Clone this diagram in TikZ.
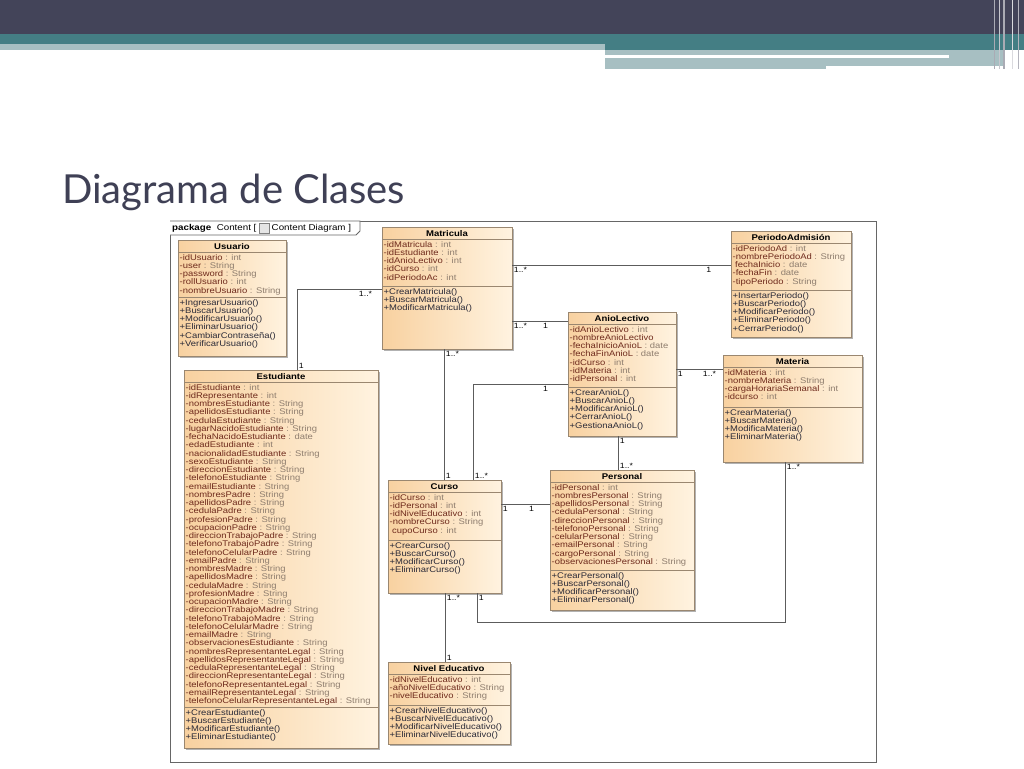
\documentclass[tikz,border=0pt]{standalone}
\usepackage{fontspec}
\usetikzlibrary{calc,positioning,shadows}

\newfontfamily\umlfont[FakeStretch=1.15]{Liberation Sans}
\newfontfamily\slidefont{Lato}

\definecolor{barDark}{HTML}{434459}
\definecolor{barTeal}{HTML}{447E84}
\definecolor{barLight}{HTML}{A7BFC2}
\definecolor{titleInk}{HTML}{3F4055}
\definecolor{boxLeft}{HTML}{F8D1A0}
\definecolor{boxRight}{HTML}{FFF3E0}
\definecolor{boxLine}{HTML}{9A8770}
\definecolor{attrName}{HTML}{6E2A1C}
\definecolor{attrType}{HTML}{8E7D6E}
\definecolor{methInk}{HTML}{2A2A38}
\definecolor{linkInk}{HTML}{5C5C5C}

% attribute with type, attribute without type, attribute without dash
\newcommand{\ua}[2]{\textcolor{attrName}{-#1} \textcolor{attrType}{: #2}}
\newcommand{\uan}[1]{\textcolor{attrName}{-#1}}
\newcommand{\uas}[2]{\textcolor{attrName}{\hspace{2.5pt}#1} \textcolor{attrType}{: #2}}

\tikzset{
  classbox/.style={draw=boxLine, line width=0.6pt, left color=boxLeft, right color=boxRight,
    inner sep=0pt, outer sep=0pt, anchor=north west,
    drop shadow={shadow xshift=1.8pt, shadow yshift=-1.8pt, fill=black, opacity=0.3}},
  classtitle/.style={font=\umlfont\bfseries\fontsize{8.3}{9}\selectfont, inner sep=0pt, text=black},
  classtext/.style={font=\umlfont\fontsize{8.2}{8.25}\selectfont, align=left, inner sep=0pt, anchor=north west},
  assoc/.style={draw=linkInk, line width=0.8pt},
  mult/.style={font=\umlfont\fontsize{7.6}{8}\selectfont, inner sep=1.5pt, text=black},
  pkgtext/.style={font=\umlfont\fontsize{8.5}{9}\selectfont, inner sep=0pt, anchor=west}
}

% name, x, y, width, height, separator, title, attributes, methods
\newcommand{\umlclass}[9]{%
  \node[classbox, minimum width=#4pt, minimum height=#5pt] (#1) at (#2,#3) {};
  \draw[boxLine, line width=0.5pt] ($(#1.north west)+(0,12.5)$) -- ($(#1.north east)+(0,12.5)$);
  \node[classtitle] (#1Title) at ($(#1.north)+(0,6.5)$) {#7};
  \node[classtext] (#1Attr) at ($(#1.north west)+(1.5,14)$) {#8};
  \draw[boxLine, line width=0.5pt] ($(#1.north west)+(0,#6)$) -- ($(#1.north east)+(0,#6)$);
  \node[classtext, text=methInk] (#1Meth) at ($(#1.north west)+(1.5,#6+2)$) {#9};
}

\begin{document}
\begin{tikzpicture}[x=1pt,y=1pt,yscale=-1,xscale=1]
\useasboundingbox (0,0) rectangle (1024,768);
\fill[white] (0,0) rectangle (1024,768);

%Shape: top bars
\fill[barDark] (0,0) rectangle (1024,34);
\fill[barTeal] (0,34) rectangle (1024,44);
\fill[barTeal] (605,44) rectangle (1024,50);
\fill[barLight] (0,44) rectangle (605,50);
\fill[barLight] (605,50) rectangle (1005,66);
\fill[barLight] (605,66) rectangle (826,69);
\fill[white] (605,55) rectangle (949,58);
\draw[white!55!barDark, line width=1pt] (994,0) -- (994,69);
\draw[white!70!barDark, line width=0.8pt] (999,0) -- (999,69);
\draw[white!55!barDark, line width=1.2pt] (1004,0) -- (1004,69);
\draw[white!80!barDark, line width=0.8pt] (1012,0) -- (1012,69);
\draw[white!60!barDark, line width=1pt] (1018,0) -- (1018,69);

% Text Node
\node[anchor=base west, inner sep=0pt, font=\slidefont\fontsize{40}{40}\selectfont, text=titleInk] (slideTitle) at (62,203) {Diagrama de Clases};

%Shape: package frame
\draw[draw=gray!80!black, line width=0.8pt] (170,221) rectangle (876,762);
\draw[draw=gray!80!black, line width=0.8pt, fill=white] (170,221) -- (360,221) -- (360,231) -- (356,235) -- (170,235);
\node[pkgtext] (pkgA) at (172,228.5) {\textbf{package}\ \ Content [};
\node[draw=gray, fill=gray!20, minimum size=10pt, inner sep=0pt, right=2.5pt of pkgA] (pkgIcon) {};
\node[pkgtext, right=2pt of pkgIcon] (pkgB) {Content Diagram ]};

%Shape: classes
\umlclass{usuario}{178}{240}{108}{116}{57}{Usuario}
  {\ua{idUsuario}{int}\\ \ua{user}{String}\\ \ua{password}{String}\\ \ua{rollUsuario}{int}\\ \ua{nombreUsuario}{String}}
  {+IngresarUsuario()\\ +BuscarUsuario()\\ +ModificarUsuario()\\ +EliminarUsuario()\\ +CambiarContraseña()\\ +VerificarUsuario()}

\umlclass{matricula}{382}{227}{130}{122}{59}{Matricula}
  {\ua{idMatricula}{int}\\ \ua{idEstudiante}{int}\\ \ua{idAnioLectivo}{int}\\ \ua{idCurso}{int}\\ \ua{idPeriodoAc}{int}}
  {+CrearMatricula()\\ +BuscarMatricula()\\ +ModificarMatricula()}

\umlclass{periodo}{731}{231}{120}{106}{59}{PeriodoAdmisión}
  {\ua{idPeriodoAd}{int}\\ \ua{nombrePeriodoAd}{String}\\ \uas{fechaInicio}{date}\\ \ua{fechaFin}{date}\\ \ua{tipoPeriodo}{String}}
  {+InsertarPeriodo()\\ +BuscarPeriodo()\\ +ModificarPeriodo()\\ +EliminarPeriodo()\\ +CerrarPeriodo()}

\umlclass{anioLectivo}{568}{312}{108}{124}{75}{AnioLectivo}
  {\ua{idAnioLectivo}{int}\\ \uan{nombreAnioLectivo}\\ \ua{fechaInicioAnioL}{date}\\ \ua{fechaFinAnioL}{date}\\ \ua{idCurso}{int}\\ \ua{idMateria}{int}\\ \ua{idPersonal}{int}}
  {+CrearAnioL()\\ +BuscarAnioL()\\ +ModificarAnioL()\\ +CerrarAnioL()\\ +GestionaAnioL()}

\umlclass{materia}{723}{355}{139}{107}{52}{Materia}
  {\ua{idMateria}{int}\\ \ua{nombreMateria}{String}\\ \ua{cargaHorariaSemanal}{int}\\ \ua{idcurso}{int}}
  {+CrearMateria()\\ +BuscarMateria()\\ +ModificaMateria()\\ +EliminarMateria()}

\umlclass{estudiante}{184}{370}{194}{378}{337}{Estudiante}
  {\ua{idEstudiante}{int}\\ \ua{idRepresentante}{int}\\ \ua{nombresEstudiante}{String}\\ \ua{apellidosEstudiante}{String}\\
   \ua{cedulaEstudiante}{String}\\ \ua{lugarNacidoEstudiante}{String}\\ \ua{fechaNacidoEstudiante}{date}\\ \ua{edadEstudiante}{int}\\
   \ua{nacionalidadEstudiante}{String}\\ \ua{sexoEstudiante}{String}\\ \ua{direccionEstudiante}{String}\\ \ua{telefonoEstudiante}{String}\\
   \ua{emailEstudiante}{String}\\ \ua{nombresPadre}{String}\\ \ua{apellidosPadre}{String}\\ \ua{cedulaPadre}{String}\\
   \ua{profesionPadre}{String}\\ \ua{ocupacionPadre}{String}\\ \ua{direccionTrabajoPadre}{String}\\ \ua{telefonoTrabajoPadre}{String}\\
   \ua{telefonoCelularPadre}{String}\\ \ua{emailPadre}{String}\\ \ua{nombresMadre}{String}\\ \ua{apellidosMadre}{String}\\
   \ua{cedulaMadre}{String}\\ \ua{profesionMadre}{String}\\ \ua{ocupacionMadre}{String}\\ \ua{direccionTrabajoMadre}{String}\\
   \ua{telefonoTrabajoMadre}{String}\\ \ua{telefonoCelularMadre}{String}\\ \ua{emailMadre}{String}\\ \ua{observacionesEstudiante}{String}\\
   \ua{nombresRepresentanteLegal}{String}\\ \ua{apellidosRepresentanteLegal}{String}\\ \ua{cedulaRepresentanteLegal}{String}\\
   \ua{direccionRepresentanteLegal}{String}\\ \ua{telefonoRepresentanteLegal}{String}\\ \ua{emailRepresentanteLegal}{String}\\
   \ua{telefonoCelularRepresentanteLegal}{String}}
  {+CrearEstudiante()\\ +BuscarEstudiante()\\ +ModificarEstudiante()\\ +EliminarEstudiante()}

\umlclass{curso}{388}{480}{113}{113}{60}{Curso}
  {\ua{idCurso}{int}\\ \ua{idPersonal}{int}\\ \ua{idNivelEducativo}{int}\\ \ua{nombreCurso}{String}\\ \uas{cupoCurso}{int}}
  {+CrearCurso()\\ +BuscarCurso()\\ +ModificarCurso()\\ +EliminarCurso()}

\umlclass{personal}{550}{470}{144}{140}{100}{Personal}
  {\ua{idPersonal}{int}\\ \ua{nombresPersonal}{String}\\ \ua{apellidosPersonal}{String}\\ \ua{cedulaPersonal}{String}\\
   \ua{direccionPersonal}{String}\\ \ua{telefonoPersonal}{String}\\ \ua{celularPersonal}{String}\\ \ua{emailPersonal}{String}\\
   \ua{cargoPersonal}{String}\\ \ua{observacionesPersonal}{String}}
  {+CrearPersonal()\\ +BuscarPersonal()\\ +ModificarPersonal()\\ +EliminarPersonal()}

\umlclass{nivelEducativo}{388}{662}{122}{82}{43}{Nivel Educativo}
  {\ua{idNivelEducativo}{int}\\ \ua{añoNivelEducativo}{String}\\ \ua{nivelEducativo}{String}}
  {+CrearNivelEducativo()\\ +BuscarNivelEducativo()\\ +ModificarNivelEducativo()\\ +EliminarNivelEducativo()}

% bends of the associations
\coordinate (jME) at (297,289);
\coordinate (yMP) at (0,265);
\coordinate (yMA) at (0,321);
\coordinate (xMC) at (444,0);
\coordinate (jAC) at (473,384);
\coordinate (yAM) at (0,369);
\coordinate (xAP) at (618,0);
\coordinate (yCP) at (0,504);
\coordinate (jCM) at (477,622);
\coordinate (kCM) at (785,622);
\coordinate (xCN) at (445,0);

%Straight Lines
\draw[assoc] (estudiante.north -| jME) -- node[mult, at start, anchor=south west] {1} (jME) -- (matricula.west |- jME)
  node[mult, at end, anchor=north east, xshift=-8pt] {1..*};
\draw[assoc] (matricula.east |- yMP) -- (periodo.west |- yMP)
  node[mult, at start, anchor=north west] {1..*} node[mult, at end, anchor=north east, xshift=-18pt] {1};
\draw[assoc] (matricula.east |- yMA) -- (anioLectivo.west |- yMA)
  node[mult, at start, anchor=north west] {1..*} node[mult, at end, anchor=north east, xshift=-18pt] {1};
\draw[assoc] (matricula.south -| xMC) -- (curso.north -| xMC)
  node[mult, at start, anchor=north west] {1..*} node[mult, at end, anchor=south west] {1};
\draw[assoc] (anioLectivo.west |- jAC) -- node[mult, at start, anchor=north east, xshift=-18pt] {1} (jAC) -- (curso.north -| jAC)
  node[mult, at end, anchor=south west] {1..*};
\draw[assoc] (anioLectivo.east |- yAM) -- (materia.west |- yAM)
  node[mult, at start, anchor=north west] {1} node[mult, at end, anchor=north east, xshift=-5pt] {1..*};
\draw[assoc] (anioLectivo.south -| xAP) -- (personal.north -| xAP)
  node[mult, at start, anchor=north west] {1} node[mult, at end, anchor=south west] {1..*};
\draw[assoc] (curso.east |- yCP) -- (personal.west |- yCP)
  node[mult, at start, anchor=north west] {1} node[mult, at end, anchor=north east, xshift=-14pt] {1};
\draw[assoc] (curso.south -| jCM) -- node[mult, at start, anchor=north west] {1} (jCM) -- (kCM) -- (materia.south -| kCM)
  node[mult, at end, anchor=north west] {1..*};
\draw[assoc] (curso.south -| xCN) -- (nivelEducativo.north -| xCN)
  node[mult, at start, anchor=north west] {1..*} node[mult, at end, anchor=south west] {1};

\end{tikzpicture}
\end{document}
